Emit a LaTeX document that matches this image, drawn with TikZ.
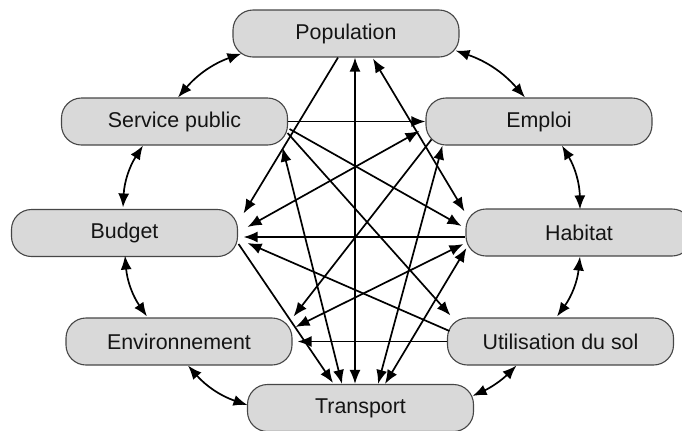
\documentclass[tikz,border=0pt]{standalone}
\usepackage{fontspec}
\setmainfont{Liberation Sans}
\usetikzlibrary{arrows.meta,calc,positioning}
\definecolor{boxgray}{RGB}{217,217,217}
\definecolor{edgegray}{RGB}{70,70,70}
\definecolor{inkgray}{RGB}{20,20,20}

\begin{document}
\begin{tikzpicture}[x=0.5pt,y=-0.5pt,>={Latex[length=7pt,width=5.5pt]}]
        \tikzstyle{box}=[rectangle, rounded corners=10pt, draw=edgegray, line width=0.55pt, fill=boxgray, text=inkgray, minimum width=113pt, minimum height=23.5pt, inner sep=0pt, font=\fontsize{10.7}{12}\selectfont]
        \tikzstyle{link}=[line width=0.85pt]
        \useasboundingbox (0,0) rectangle (682,430);

        % Factors
        \node[box] (pop) at (346,33.5) {Population};
        \node[box] (ser) at (174.5,121.5) {Service public};
        \node[box] (emp) at (539,121.5) {Emploi};
        \node[box] (bud) at (124.5,233) {Budget};
        \node[box] (hab) at (579,232.5) {Habitat};
        \node[box] (env) at (179,341.5) {Environnement};
        \node[box] (uti) at (560.5,341.5) {Utilisation du sol};
        \node[box] (tra) at (360.5,408) {Transport};

        % Outer ring
        \draw[link,<->] ($(ser.north)+(3.5,0)$) to[bend left=15] ($(pop.south west)+(9,-4)$);
        \draw[link,<->] ($(pop.south east)+(-4,-7)$) to[bend left=15] ($(emp.north)+(-14,0)$);
        \draw[link,<->] ($(emp.south)+(23,0)$) to[bend left=15] ($(hab.north)+(1,1)$);
        \draw[link,<->] ($(hab.south)+(1,0)$) to[bend left=15] ($(uti.north)+(-3.5,-1)$);
        \draw[link,<->] ($(uti.south west)+(69.5,0)$) to[bend left=10] ($(tra.north east)+(-1.5,12)$);
        \draw[link,<->] ($(tra.west)+(0.5,-3)$) to[bend left=15] ($(env.south)+(9,0)$);
        \draw[link,<->] ($(env.north)+(-32,-1)$) to[bend left=15] ($(bud.south)+(0.5,-1.5)$);
        \draw[link,<->] ($(bud.north)+(-1.5,-1.5)$) to[bend left=15] ($(ser.south)+(-31.5,0)$);

        % Inner links
        \draw[link,->] ($(pop.south)+(-8,0)$) -- ($(bud.north east)+(5.5,4.5)$);
        \draw[link,<->] ($(pop.south)+(9,0)$) -- ($(tra.north)+(-5.5,0)$);
        \draw[link,<->] ($(pop.south)+(27,1)$) -- ($(hab.north west)+(-1,3)$);
        \draw[link,->] (ser.east) -- (emp.west);
        \draw[link,->] ($(ser.east)+(1.5,7.5)$) -- ($(hab.west)+(-4,-6.5)$);
        \draw[link,->] ($(ser.east)+(-0.5,11.5)$) -- ($(uti.north west)+(3.5,-2)$);
        \draw[link,<->] ($(ser.south east)+(-5.5,2)$) -- ($(tra.north)+(-18.5,0)$);
        \draw[link,<->] ($(emp.west)+(-6,9.5)$) -- ($(bud.east)+(9.5,-6)$);
        \draw[link,->] ($(emp.south west)+(6,-6)$) -- ($(env.north east)+(1,-1)$);
        \draw[link,<->] ($(emp.south west)+(17,0)$) -- ($(tra.north)+(17.5,0)$);
        \draw[link,->] ($(hab.west)+(0,4.5)$) -- ($(bud.east)+(5.5,4)$);
        \draw[link,<->] ($(hab.west)+(-2,11.5)$) -- ($(env.east)+(3,-14.5)$);
        \draw[link,<->] ($(hab.west)+(1,15.5)$) -- ($(tra.north)+(24.5,0)$);
        \draw[link,->] ($(uti.west)+(2.5,-10.5)$) -- ($(bud.east)+(9.5,10)$);
        \draw[link,->] (uti.west) -- ($(env.east)+(5,0)$);
        \draw[link,->] ($(bud.east)+(0.5,11)$) -- ($(tra.north)+(-27.5,-1)$);
    \end{tikzpicture}
\end{document}
